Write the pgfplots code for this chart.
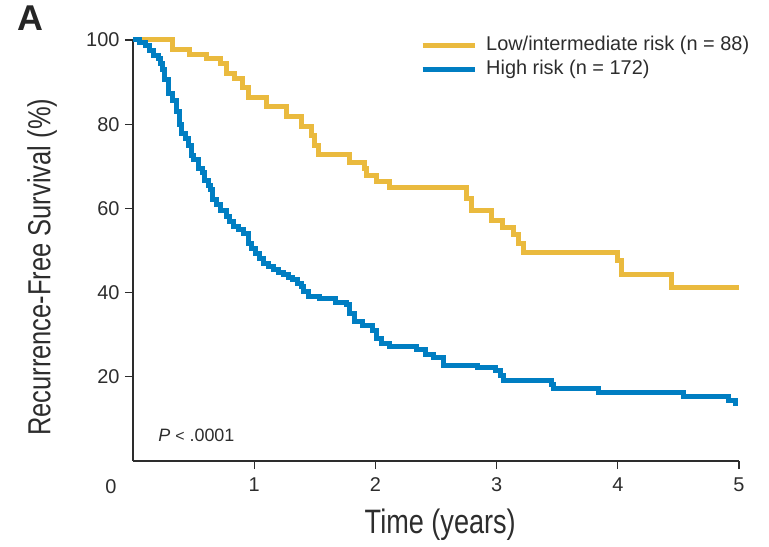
\documentclass[border=0pt]{standalone}
\usepackage{fontspec}
\setmainfont{Liberation Sans}
\newfontfamily\condfont{Liberation Sans}[FakeStretch=0.8]
\usepackage{pgfplots}
\pgfplotsset{compat=1.18}
\definecolor{kmyellow}{RGB}{234,186,62}
\definecolor{kmblue}{RGB}{0,126,194}
\definecolor{axgray}{RGB}{45,45,45}
\begin{document}
\begin{tikzpicture}
\begin{axis}[
  at={(0,0)}, anchor=south west,
  scale only axis, width=606bp, height=421bp,
  xmin=0, xmax=5, ymin=0, ymax=100,
  axis lines*=left,
  axis line style={axgray, line width=1.3bp},
  xtick={1,2,3,4,5}, ytick={20,40,60,80,100},
  tick align=outside, major tick length=8bp,
  tick style={axgray, line width=1.3bp},
  /pgf/number format/assume math mode=true,
  ticklabel style={font=\fontsize{20}{22}\selectfont, text=axgray},
  xticklabel style={yshift=-5bp},
  yticklabel style={xshift=-2bp},
  xlabel={Time (years)}, ylabel={Recurrence-Free Survival (\%)},
  xlabel style={font=\condfont\fontsize{34}{36}\selectfont, text=axgray, at={(axis description cs:0.507,-0.152)}, anchor=center},
  ylabel style={font=\condfont\fontsize{32}{34}\selectfont, text=axgray, at={(axis description cs:-0.150,0.46)}, anchor=center, rotate=0},
  clip=false,
  legend style={draw=none, fill=none, at={(axis description cs:0.4736,1.016)}, anchor=north west, inner sep=0pt, row sep=0pt,
    font=\fontsize{20}{22}\selectfont, text=axgray,
    nodes={inner sep=2bp, text height=15bp, text depth=5bp},
    /tikz/every odd column/.append style={column sep=7bp}},
  legend cell align=left,
  legend image code/.code={\draw[#1, line width=5bp] (0bp,0bp) -- (52bp,0bp);},
  every axis plot/.append style={line width=5bp, line join=miter},
]
\addplot[kmyellow, const plot] coordinates {
(0,100) (0.33,97.7) (0.47,96.6) (0.61,95.5) (0.72,94.3) (0.77,92.0) (0.84,90.9)
(0.90,88.6) (0.95,86.4) (1.10,84.1) (1.27,81.8) (1.39,79.5) (1.47,77.3) (1.50,75.0)
(1.53,72.7) (1.79,70.9) (1.91,69.5) (1.93,67.7) (2.01,66.3) (2.12,65.0) (2.75,62.4)
(2.79,59.6) (2.96,57.2) (3.05,55.5) (3.14,53.7) (3.18,51.7) (3.22,49.5) (4.00,47.7)
(4.03,44.2) (4.44,41.3) (5.0,41.3)};
\addlegendentry{Low/intermediate risk (n = 88)}
\addplot[kmblue, const plot] coordinates {
(0,100) (0.05,99.4) (0.10,98.8) (0.14,97.6) (0.17,96.4) (0.21,95.6) (0.23,94.5)
(0.24,93.0) (0.26,90.5) (0.29,87.3) (0.33,85.7) (0.36,83.0) (0.38,80.0) (0.40,77.8)
(0.43,76.5) (0.46,75.0) (0.48,72.5) (0.50,71.5) (0.54,69.5) (0.57,68.5) (0.59,66.7)
(0.62,65.5) (0.64,64.4) (0.66,62.0) (0.69,61.0) (0.72,59.6) (0.77,58.0) (0.80,57.0)
(0.83,55.7) (0.87,55.0) (0.91,54.1) (0.95,51.7) (0.98,50.5) (1.01,49.3) (1.04,48.2)
(1.08,47.0) (1.12,46.2) (1.16,45.4) (1.20,44.8) (1.24,44.2) (1.28,43.6) (1.32,43.0)
(1.36,42.2) (1.39,41.4) (1.41,40.2) (1.45,39.0) (1.54,38.6) (1.67,37.6) (1.76,37.1)
(1.79,35.1) (1.83,33.1) (1.89,32.3) (1.98,31.1) (2.01,29.1) (2.05,28.0) (2.12,27.3)
(2.34,26.4) (2.41,25.2) (2.48,24.5) (2.56,22.8) (2.84,22.3) (2.99,21.4) (3.03,20.3)
(3.06,19.2) (3.45,18.1) (3.47,17.3) (3.84,16.3) (4.54,15.4) (4.91,14.3) (4.97,13.7)
(4.99,13.7)};
\addlegendentry{High risk (n = 172)}
\node[font=\fontsize{20}{22}\selectfont, text=axgray] at (axis description cs:-0.0363,-0.0618) {0};
\node[font=\fontsize{18}{20}\selectfont, text=axgray, anchor=west] at (axis description cs:0.036,0.062) {\textit{P} {\fontsize{16}{18}\selectfont<} .0001};
\node[font=\bfseries\fontsize{36}{38}\selectfont, text=black!85] at (axis description cs:-0.170,1.052) {A};
\end{axis}
\pgfresetboundingbox
\path[use as bounding box] (-133bp,-86bp) rectangle (636bp,461bp);
\end{tikzpicture}
\end{document}
